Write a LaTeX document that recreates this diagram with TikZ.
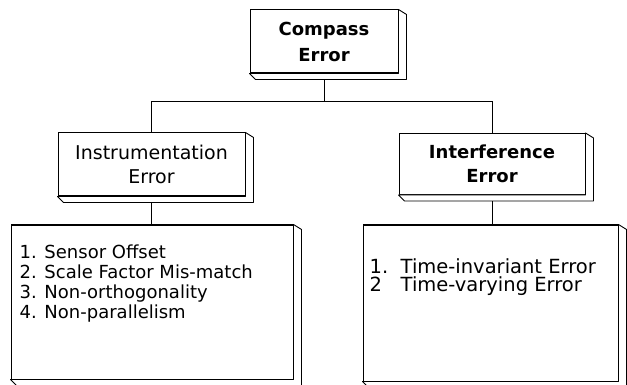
\documentclass[tikz,border=0pt]{standalone}
\usepackage{fontspec}
\setmainfont{DejaVu Sans}
\usetikzlibrary{calc,positioning}

\begin{document}
\begin{tikzpicture}[x=1pt,y=-1pt,
  box/.style={draw, line width=1pt, fill=white, inner sep=0pt, align=center},
  items/.style={anchor=north west, inner sep=0pt, align=left},
  link/.style={line width=1pt},
  bevel/.style={draw, line width=0.9pt, fill=white, line join=round}]
\useasboundingbox (0,0) rectangle (627,385);
% Top level
\node[box, minimum width=148pt, minimum height=63pt,
  font={\fontsize{18}{26}\selectfont\bfseries}] (compass) at (324,41.5) {Compass\\Error};
% Second level
\node[box, minimum width=187pt, minimum height=63pt,
  font={\fontsize{19}{24}\selectfont}] (instr) at (151.5,164.5) {Instrumentation\\Error};
\node[box, minimum width=186pt, minimum height=61pt,
  font={\fontsize{18}{24}\selectfont\bfseries}] (interf) at (492,164) {Interference\\Error};
% Lists
\node[box, minimum width=282pt, minimum height=154pt] (instlist) at (152,302) {};
\node[box, minimum width=255pt, minimum height=156pt] (interlist) at (490.5,303) {};
\node[items, font={\fontsize{18}{20}\selectfont}] (institems)
  at ([xshift=9pt,yshift=-20pt]instlist.north west)
  {1. Sensor Offset\\2. Scale Factor Mis-match\\3. Non-orthogonality\\4. Non-parallelism};
\node[items, font={\fontsize{19.5}{20}\selectfont}] (interitems)
  at ([xshift=7pt,yshift=-34pt]interlist.north west)
  {1.\ \ Time-invariant Error\\[-2pt]2\phantom{.}\ \ Time-varying Error};
% Connectors
\draw[link] (compass.south) -- ++(0,28) -| (instr.north);
\draw[link] (compass.south) -- ++(0,28) -| (interf.north);
\draw[link] (instr.south) -- (instr.south |- instlist.north);
\draw[link] (interf.south) -- (interf.south |- interlist.north);
% Raised edges
\foreach \n in {compass,instr,interf,instlist,interlist}
  \draw[bevel] (\n.north east) -- ++(8,5) -- ($(\n.south east)+(8,6)$)
    -- ($(\n.south west)+(6,6)$) -- (\n.south west) -- (\n.south east) -- cycle;
\end{tikzpicture}
\end{document}
